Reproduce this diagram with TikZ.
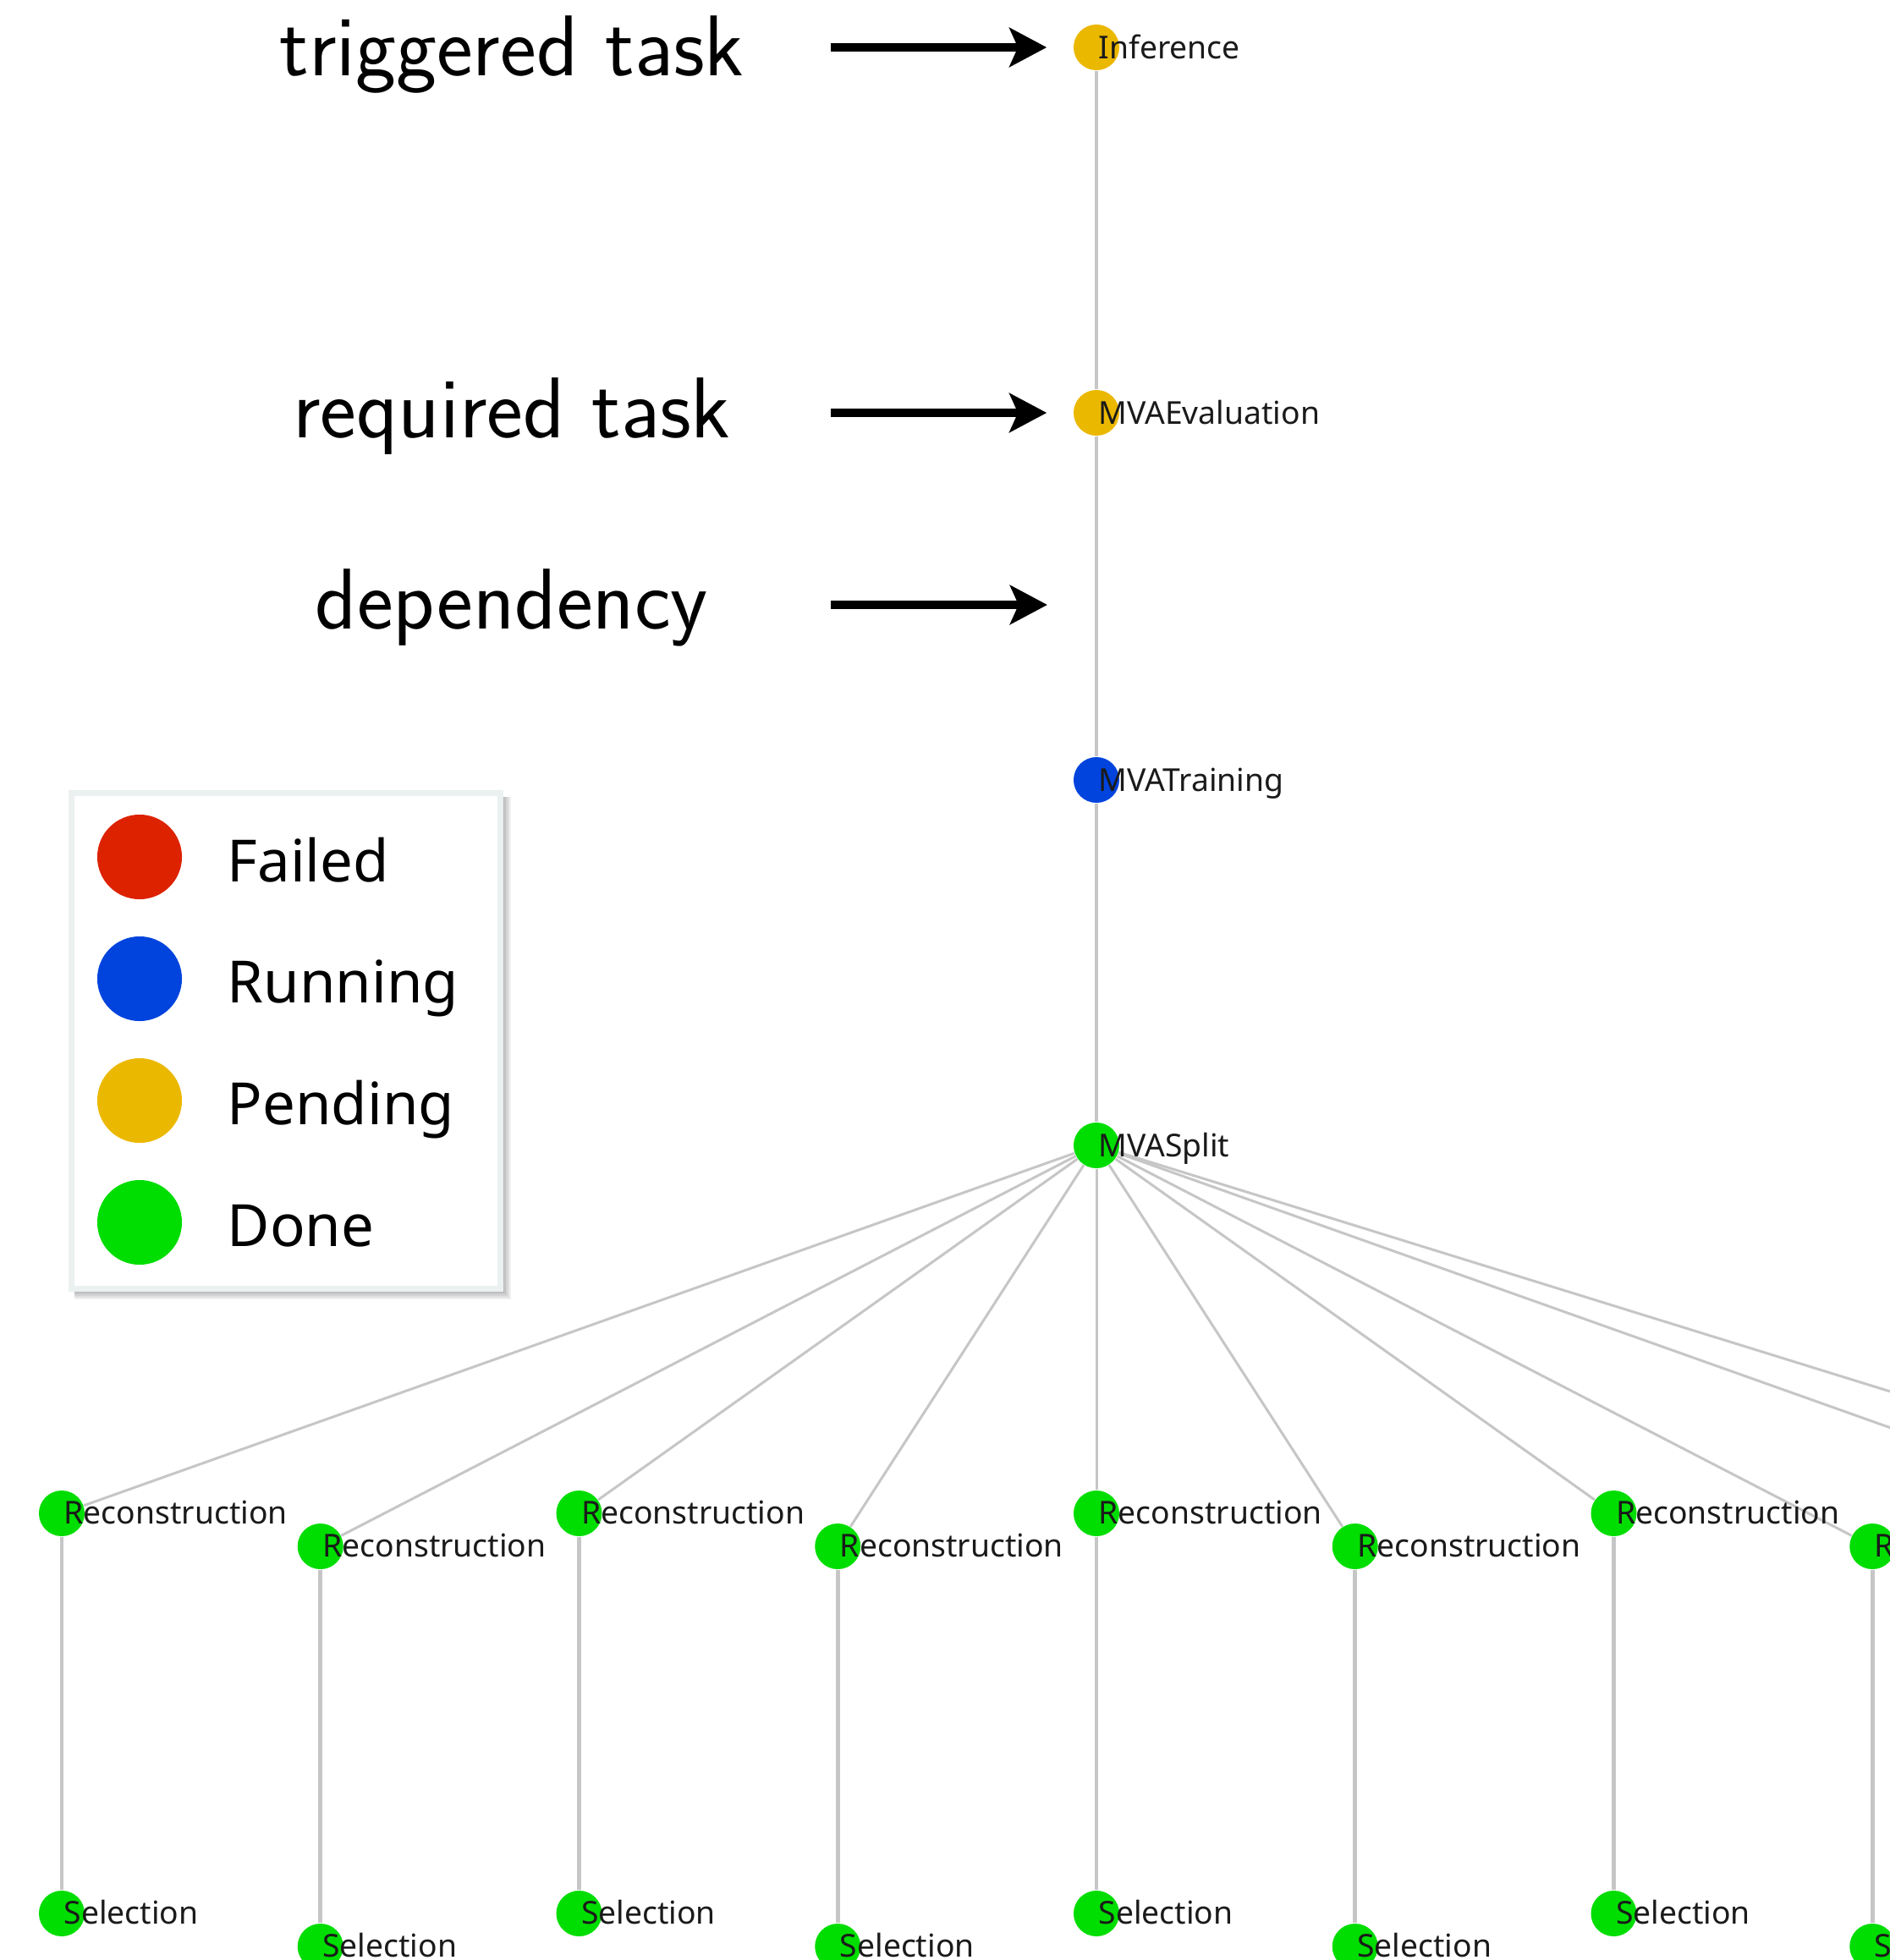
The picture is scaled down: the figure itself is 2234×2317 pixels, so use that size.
\documentclass[tikz,border=0pt]{standalone}
\usepackage{fontspec}
\newfontfamily\uifont{Noto Sans}
\usetikzlibrary{arrows.meta}

\definecolor{failedred}{HTML}{DD2200}
\definecolor{runblue}{HTML}{0044DD}
\definecolor{pendyellow}{HTML}{EBB800}
\definecolor{donegreen}{HTML}{00DD00}
\definecolor{edgegray}{RGB}{198,198,198}
\definecolor{labelink}{HTML}{1A1A1A}
\definecolor{legendrim}{HTML}{EBF0F0}

\begin{document}
\begin{tikzpicture}[x=0.01cm,y=-0.01cm,
  task/.style={circle, inner sep=0pt, minimum size=0.54cm, fill=#1},
  tasklabel/.style={anchor=base west, inner sep=0pt, text=labelink,
    font=\uifont\fontsize{10.6}{12}\selectfont},
  chainedge/.style={draw=edgegray, line width=1.3pt},
  fanedge/.style={draw=edgegray, line width=0.85pt},
  pointer/.style={line width=2.7pt,
    -{Stealth[length=0.44cm,width=0.46cm,inset=0.1cm]}},
  callout/.style={anchor=base, inner sep=0pt,
    font=\sffamily\fontsize{29}{32}\selectfont},
  swatch/.style={circle, inner sep=0pt, minimum size=1.0cm, fill=#1},
  legendtext/.style={anchor=base west, inner sep=0pt,
    font=\uifont\fontsize{19.6}{24}\selectfont},
]
\useasboundingbox (0,0) rectangle (2234,2317);
\clip (0,0) rectangle (2234,2317);
\fill[white] (0,0) rectangle (2234,2317);

% ---- task chain -------------------------------------------------------
\node[task=pendyellow] (inf)   at (1296,56)   {};
\node[task=pendyellow] (eval)  at (1296,488)  {};
\node[task=runblue]    (train) at (1296,922)  {};
\node[task=donegreen]  (split) at (1296,1354) {};

\draw[chainedge] (inf) -- (eval);
\draw[chainedge] (eval) -- (train);
\draw[chainedge] (train) -- (split);

% ---- reconstruction / selection branches --------------------------------
\foreach \k in {0,...,9} {
  \pgfmathsetmacro\xx{73+305.75*\k}
  \pgfmathsetmacro\yy{1789+39*mod(\k,2)}
  \node[task=donegreen] (rec\k) at (\xx,\yy) {};
  \node[task=donegreen] (sel\k) at (\xx,\yy+473) {};
  \draw[fanedge] (split) -- (rec\k);
  \draw[chainedge] (rec\k) -- (sel\k);
}

% ---- task names -------------------------------------------------------
\node[tasklabel] (infL)   at ([shift={(2,13)}]inf.center)   {Inference};
\node[tasklabel] (evalL)  at ([shift={(2,13)}]eval.center)  {MVAEvaluation};
\node[tasklabel] (trainL) at ([shift={(2,13)}]train.center) {MVATraining};
\node[tasklabel] (splitL) at ([shift={(2,13)}]split.center) {MVASplit};
\foreach \k in {0,...,9} {
  \node[tasklabel] (recL\k) at ([shift={(2,12)}]rec\k.center) {Reconstruction};
  \node[tasklabel] (selL\k) at ([shift={(2,12)}]sel\k.center) {Selection};
}

% ---- annotations ------------------------------------------------------
\node[callout] (trig) at (605,89)  {triggered task};
\node[callout] (req)  at (605,517) {required task};
\node[callout] (dep)  at (605,743) {dependency};

\coordinate (trigS) at (982,56);
\coordinate (reqS)  at (982,488);
\coordinate (depS)  at (982,715);
\coordinate (depE)  at (1238,715);

\draw[pointer, shorten >=0.31cm] (trigS) -- (inf);
\draw[pointer, shorten >=0.31cm] (reqS) -- (eval);
\draw[pointer] (depS) -- (depE);

% ---- legend -----------------------------------------------------------
% soft drop shadow towards the lower right
\foreach \s in {0,2,4,6,8,10,12}
  \fill[black, opacity=0.06] (88,942) rectangle (592+\s,1524+\s);
\node[draw=legendrim, fill=white, line width=0.07cm, inner sep=0pt,
      minimum width=5.07cm, minimum height=5.86cm, anchor=north west]
      (legend) at (81,934) {};

\node[swatch=failedred]  (kfail) at (165,1013) {};
\node[swatch=runblue]    (krun)  at (165,1157) {};
\node[swatch=pendyellow] (kpend) at (165,1301) {};
\node[swatch=donegreen]  (kdone) at (165,1445) {};

\node[legendtext] (tfail) at (268,1042) {Failed};
\node[legendtext] (trun)  at (268,1185) {Running};
\node[legendtext] (tpend) at (268,1329) {Pending};
\node[legendtext] (tdone) at (268,1473) {Done};
\end{tikzpicture}
\end{document}
